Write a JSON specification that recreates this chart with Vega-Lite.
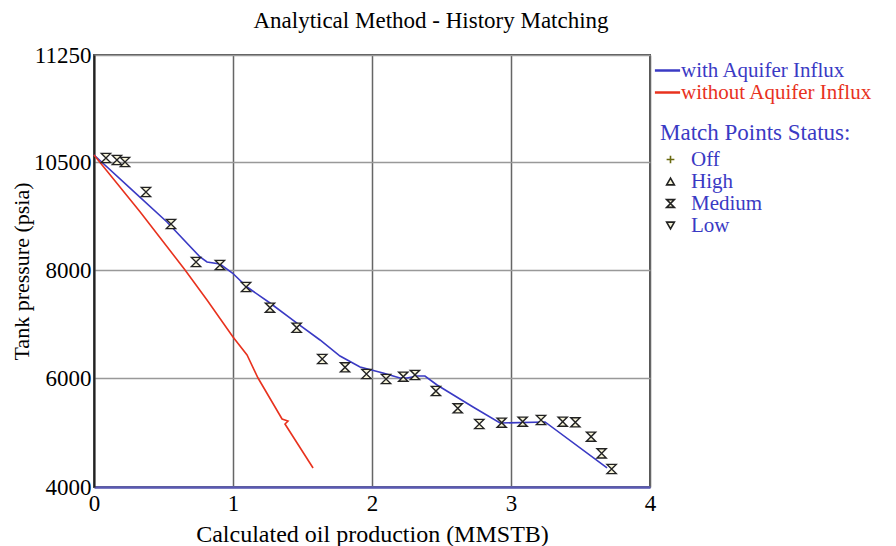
{
  "$schema": "https://vega.github.io/schema/vega-lite/v6.json",
  "autosize": {"type": "none"},
  "width": 556,
  "height": 432,
  "padding": {"left": 94, "top": 55, "right": 246, "bottom": 59},
  "background": "white",
  "title": {
    "text": "Analytical Method - History Matching",
    "font": "Liberation Serif",
    "fontSize": 23,
    "fontWeight": "normal",
    "color": "black",
    "anchor": "middle",
    "dx": 59,
    "offset": 11
  },
  "config": {
    "font": "Liberation Serif",
    "view": {"stroke": "#555", "strokeWidth": 2},
    "axis": {
      "labelFont": "Liberation Serif",
      "titleFont": "Liberation Serif",
      "labelFontSize": 23,
      "titleFontSize": 24,
      "titleFontWeight": "normal",
      "labelColor": "black",
      "titleColor": "black",
      "tickSize": 0
    },
    "legend": {
      "labelFont": "Liberation Serif",
      "titleFont": "Liberation Serif"
    }
  },
  "datasets": {
    "lines": [
      {"series": "with Aquifer Influx", "o": 0, "x": 0.0, "y": 10549},
      {"series": "with Aquifer Influx", "o": 1, "x": 0.281, "y": 9830},
      {"series": "with Aquifer Influx", "o": 2, "x": 0.525, "y": 9111},
      {"series": "with Aquifer Influx", "o": 3, "x": 0.763, "y": 8301},
      {"series": "with Aquifer Influx", "o": 4, "x": 0.813, "y": 8185},
      {"series": "with Aquifer Influx", "o": 5, "x": 0.906, "y": 8139},
      {"series": "with Aquifer Influx", "o": 6, "x": 0.996, "y": 7944},
      {"series": "with Aquifer Influx", "o": 7, "x": 1.101, "y": 7685},
      {"series": "with Aquifer Influx", "o": 8, "x": 1.266, "y": 7389},
      {"series": "with Aquifer Influx", "o": 9, "x": 1.46, "y": 7018},
      {"series": "with Aquifer Influx", "o": 10, "x": 1.626, "y": 6704},
      {"series": "with Aquifer Influx", "o": 11, "x": 1.77, "y": 6407},
      {"series": "with Aquifer Influx", "o": 12, "x": 1.914, "y": 6204},
      {"series": "with Aquifer Influx", "o": 13, "x": 2.079, "y": 6093},
      {"series": "with Aquifer Influx", "o": 14, "x": 2.201, "y": 6000},
      {"series": "with Aquifer Influx", "o": 15, "x": 2.252, "y": 6000},
      {"series": "with Aquifer Influx", "o": 16, "x": 2.324, "y": 6037},
      {"series": "with Aquifer Influx", "o": 17, "x": 2.381, "y": 6037},
      {"series": "with Aquifer Influx", "o": 18, "x": 2.468, "y": 5872},
      {"series": "with Aquifer Influx", "o": 19, "x": 2.727, "y": 5468},
      {"series": "with Aquifer Influx", "o": 20, "x": 2.921, "y": 5174},
      {"series": "with Aquifer Influx", "o": 21, "x": 3.245, "y": 5193},
      {"series": "with Aquifer Influx", "o": 22, "x": 3.691, "y": 4349},
      {"series": "without Aquifer Influx", "o": 0, "x": 0.0, "y": 10549},
      {"series": "without Aquifer Influx", "o": 1, "x": 0.331, "y": 9350},
      {"series": "without Aquifer Influx", "o": 2, "x": 0.655, "y": 8000},
      {"series": "without Aquifer Influx", "o": 3, "x": 0.813, "y": 7444},
      {"series": "without Aquifer Influx", "o": 4, "x": 1.0, "y": 6759},
      {"series": "without Aquifer Influx", "o": 5, "x": 1.101, "y": 6426},
      {"series": "without Aquifer Influx", "o": 6, "x": 1.18, "y": 6000},
      {"series": "without Aquifer Influx", "o": 7, "x": 1.353, "y": 5248},
      {"series": "without Aquifer Influx", "o": 8, "x": 1.396, "y": 5211},
      {"series": "without Aquifer Influx", "o": 9, "x": 1.374, "y": 5156},
      {"series": "without Aquifer Influx", "o": 10, "x": 1.576, "y": 4349}
    ],
    "points": [
      {"status": "Medium", "x": 0.086, "y": 10528},
      {"status": "Medium", "x": 0.165, "y": 10514},
      {"status": "Medium", "x": 0.223, "y": 10500},
      {"status": "Medium", "x": 0.374, "y": 9806},
      {"status": "Medium", "x": 0.554, "y": 9065},
      {"status": "Medium", "x": 0.734, "y": 8185},
      {"status": "Medium", "x": 0.906, "y": 8116},
      {"status": "Medium", "x": 1.094, "y": 7685},
      {"status": "Medium", "x": 1.266, "y": 7302},
      {"status": "Medium", "x": 1.458, "y": 6931},
      {"status": "Medium", "x": 1.642, "y": 6352},
      {"status": "Medium", "x": 1.806, "y": 6198},
      {"status": "Medium", "x": 1.96, "y": 6074},
      {"status": "Medium", "x": 2.101, "y": 5982},
      {"status": "Medium", "x": 2.225, "y": 6024},
      {"status": "Medium", "x": 2.309, "y": 6056},
      {"status": "Medium", "x": 2.46, "y": 5761},
      {"status": "Medium", "x": 2.617, "y": 5444},
      {"status": "Medium", "x": 2.772, "y": 5156},
      {"status": "Medium", "x": 2.933, "y": 5180},
      {"status": "Medium", "x": 3.084, "y": 5198},
      {"status": "Medium", "x": 3.216, "y": 5229},
      {"status": "Medium", "x": 3.372, "y": 5198},
      {"status": "Medium", "x": 3.463, "y": 5187},
      {"status": "Medium", "x": 3.576, "y": 4923},
      {"status": "Medium", "x": 3.652, "y": 4618},
      {"status": "Medium", "x": 3.724, "y": 4330}
    ]
  },
  "encoding": {
    "x": {
      "field": "x",
      "type": "quantitative",
      "scale": {"domain": [0, 4], "nice": false, "zero": false},
      "axis": {
        "title": "Calculated oil production (MMSTB)",
        "values": [0, 1, 2, 3, 4],
        "format": "d",
        "labelPadding": 5,
        "titlePadding": 7,
        "domainColor": "#5a5ab4",
        "domainWidth": 2.5,
        "gridColor": "#666",
        "gridWidth": 1.5,
        "labelFlush": false
      }
    },
    "y": {
      "field": "y",
      "type": "quantitative",
      "scale": {
        "domain": [4000, 6000, 8000, 10500, 11250],
        "range": [432, 323, 215, 107, 0],
        "nice": false,
        "zero": false
      },
      "axis": {
        "title": "Tank pressure (psia)",
        "titleFontSize": 22,
        "values": [4000, 6000, 8000, 10500, 11250],
        "format": "d",
        "labelPadding": 3,
        "titlePadding": 0,
        "domainColor": "#222",
        "domainWidth": 2,
        "gridColor": "#999",
        "gridWidth": 1.5,
        "labelFlush": false
      }
    }
  },
  "layer": [
    {
      "data": {"name": "lines"},
      "mark": {"type": "line", "strokeWidth": 1.6},
      "encoding": {
        "order": {"field": "o", "type": "quantitative"},
        "color": {
          "field": "series",
          "type": "nominal",
          "scale": {
            "domain": ["with Aquifer Influx", "without Aquifer Influx"],
            "range": ["#3a3ac4", "#e8321e"]
          },
          "legend": {
            "title": null,
            "orient": "none",
            "legendX": 563,
            "legendY": 5,
            "symbolType": "M-1.4,0H1.4",
            "symbolSize": 324,
            "symbolStrokeWidth": 2.5,
            "labelOffset": 3,
            "labelFontSize": 21,
            "rowPadding": 0,
            "labelLimit": 400,
            "encode": {
              "labels": {
                "update": {
                  "fill": {"signal": "datum.value === 'with Aquifer Influx' ? '#3a3ac4' : '#e8321e'"}
                }
              }
            }
          }
        }
      }
    },
    {
      "data": {"name": "points"},
      "mark": {"type": "point", "filled": true, "fill": "#f6f3d8", "strokeWidth": 1.4, "size": 85, "opacity": 1},
      "encoding": {
        "shape": {
          "field": "status",
          "type": "nominal",
          "scale": {
            "domain": ["Off", "High", "Medium", "Low"],
            "range": ["M-1,0H1M0,-1V1", "triangle-up", "M-1,-1H1L-1,1H1Z", "triangle-down"]
          },
          "legend": {
            "title": "Match Points Status:",
            "titleColor": "#3a3ac4",
            "titleFontSize": 23,
            "titleFontWeight": "normal",
            "titlePadding": 4,
            "titleLimit": 400,
            "orient": "none",
            "legendX": 566,
            "legendY": 67,
            "labelColor": "#3a3ac4",
            "labelFontSize": 21,
            "labelOffset": 10,
            "labelLimit": 400,
            "symbolSize": 60,
            "symbolStrokeWidth": 1.6,
            "rowPadding": 0
          }
        },
        "stroke": {
          "field": "status",
          "type": "nominal",
          "scale": {
            "domain": ["Off", "High", "Medium", "Low"],
            "range": ["#6a6a10", "#222222", "#222222", "#222222"]
          },
          "legend": {
            "title": "Match Points Status:",
            "titleColor": "#3a3ac4",
            "titleFontSize": 23,
            "titleFontWeight": "normal",
            "titlePadding": 4,
            "titleLimit": 400,
            "orient": "none",
            "legendX": 566,
            "legendY": 67,
            "labelColor": "#3a3ac4",
            "labelFontSize": 21,
            "labelOffset": 10,
            "labelLimit": 400,
            "symbolSize": 60,
            "symbolStrokeWidth": 1.6,
            "rowPadding": 0
          }
        }
      }
    }
  ]
}
